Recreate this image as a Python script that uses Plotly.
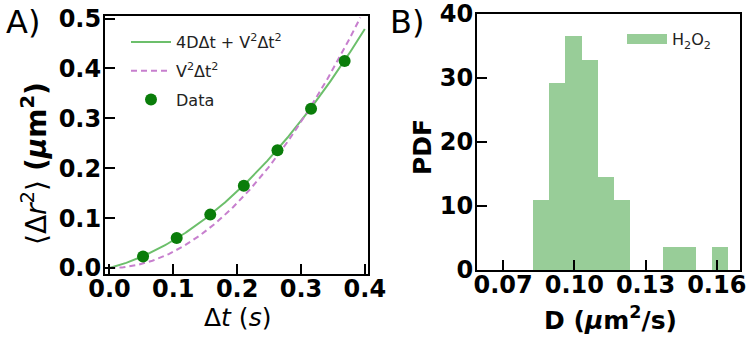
import numpy as np
import plotly.graph_objects as go

W, H = 749, 337

# ---------- Panel A data ----------
dt_data = [0.0526, 0.1053, 0.1579, 0.2105, 0.2632, 0.3158, 0.3684]
msd_data = [0.023, 0.060, 0.107, 0.165, 0.236, 0.319, 0.415]
# fit parameters
FOUR_D = 0.337      # 4D (um^2/s)
V2_FULL = 2.15      # V^2 in the full fit
V2_BALL = 3.25      # V^2 in the ballistic-only curve
t_fit = np.linspace(0.0, 0.4, 200)
t_ball = np.linspace(0.0, 0.393, 200)

# ---------- Panel B data ----------
bin_left = [0.0825, 0.0894, 0.0962, 0.1031, 0.1099, 0.1168, 0.1236,
            0.1305, 0.1373, 0.1442, 0.1510, 0.1579]
bin_width = 0.006858
pdf_vals = [10.9, 29.2, 36.5, 32.8, 14.6, 10.9, 0, 0, 3.6, 3.6, 0, 3.6]

C_LINE = "#6cbf6b"
C_DASH = "#c77fce"
C_DOT = "#0a7d0a"
C_BAR = "#98cd98"

FONT = "DejaVu Sans"

def px(x):
    return x / W

def py(y):
    return 1 - y / H

fig = go.Figure()

fig.add_trace(go.Scatter(
    x=t_fit, y=FOUR_D * t_fit + V2_FULL * t_fit**2, mode="lines",
    line=dict(color=C_LINE, width=2),
    name="4DΔt + V<sup>2</sup>Δt<sup>2</sup>", legend="legend", legendgroup="a1",
    xaxis="x", yaxis="y"))
fig.add_trace(go.Scatter(
    x=t_ball, y=V2_BALL * t_ball**2, mode="lines",
    line=dict(color=C_DASH, width=2, dash="6px,4px"),
    name="V<sup>2</sup>Δt<sup>2</sup>", legend="legend", legendgroup="a2",
    xaxis="x", yaxis="y"))
fig.add_trace(go.Scatter(
    x=dt_data, y=msd_data, mode="markers",
    marker=dict(color=C_DOT, size=12),
    name="Data", legend="legend", legendgroup="a3",
    xaxis="x", yaxis="y"))

centers = [b + bin_width / 2 for b in bin_left]
fig.add_trace(go.Bar(
    x=centers, y=pdf_vals, width=[bin_width] * len(centers),
    marker=dict(color=C_BAR, line=dict(width=0)),
    showlegend=False, xaxis="x2", yaxis="y2"))
# legend proxy for histogram
fig.add_trace(go.Scatter(
    x=[None], y=[None], mode="lines",
    line=dict(color=C_BAR, width=13),
    name="H<sub>2</sub>O<sub>2</sub>", legend="legend2",
    xaxis="x2", yaxis="y2"))

tickfont = dict(family=FONT, size=24, color="black", weight="bold")
common = dict(showline=True, linecolor="black", linewidth=2, mirror=True,
              ticks="inside", ticklen=10, tickwidth=2, tickcolor="black",
              showgrid=False, zeroline=False, tickfont=tickfont, automargin=False)

fig.update_layout(
    width=W, height=H, margin=dict(l=0, r=0, t=0, b=0, autoexpand=False),
    paper_bgcolor="white", plot_bgcolor="white",
    font=dict(family=FONT, color="black"),
    bargap=0,
    xaxis=dict(domain=[px(105), px(368)], range=[-0.007, 0.405],
               tickvals=[0.0, 0.1, 0.2, 0.3, 0.4], ticktext=["0.0", "0.1", "0.2", "0.3", "0.4"],
               anchor="y", ticklabelstandoff=-8, **common),
    yaxis=dict(domain=[py(274), py(16)], range=[-0.012, 0.505],
               tickvals=[0.0, 0.1, 0.2, 0.3, 0.4, 0.5],
               ticktext=["0.0", "0.1", "0.2", "0.3", "0.4", "0.5"],
               anchor="x", ticklabelstandoff=-3, **common),
    xaxis2=dict(domain=[px(477), px(740)], range=[0.059, 0.1698],
                tickvals=[0.07, 0.10, 0.13, 0.16], ticktext=["0.07", "0.10", "0.13", "0.16"],
                anchor="y2", ticklabelstandoff=-8, **common),
    yaxis2=dict(domain=[py(270), py(14)], range=[0, 40],
                tickvals=[0, 10, 20, 30, 40],
                anchor="x2", ticklabelstandoff=-3, **common),
    legend=dict(x=px(126), y=py(25), xanchor="left", yanchor="top",
                bgcolor="rgba(0,0,0,0)", font=dict(family=FONT, size=16, color="#222"),
                tracegroupgap=5, itemwidth=40),
    legend2=dict(x=px(622), y=py(22), xanchor="left", yanchor="top",
                 bgcolor="rgba(0,0,0,0)", font=dict(family=FONT, size=16, color="#222"),
                 itemwidth=40),
    showlegend=True,
)

annots = [
    dict(text="A)", x=px(4), y=py(22), xanchor="left", yanchor="middle",
         font=dict(size=32)),
    dict(text="B)", x=px(388), y=py(22), xanchor="left", yanchor="middle",
         font=dict(size=32)),
    dict(text="Δ<i>t</i> (<i>s</i>)", x=px(237), y=py(317), xanchor="center", yanchor="middle",
         font=dict(size=25)),
    dict(text="<b>D (<i>μ</i>m<sup>2</sup>/s)</b>", x=px(610), y=py(318), xanchor="center", yanchor="middle",
         font=dict(size=25)),
    dict(text="⟨Δ<i>r</i><sup>2</sup>⟩ <b>(<i>μ</i>m<sup>2</sup>)</b>", x=px(35), y=py(164),
         xanchor="center", yanchor="middle", textangle=-90, font=dict(size=28)),
    dict(text="<b>PDF</b>", x=px(422), y=py(147), xanchor="center", yanchor="middle",
         textangle=-90, font=dict(size=25)),
]
for a in annots:
    a.update(xref="paper", yref="paper", showarrow=False)
    a["font"] = dict(family=FONT, color="black", **a["font"])
fig.update_layout(annotations=annots)

fig.write_html("out.html")
